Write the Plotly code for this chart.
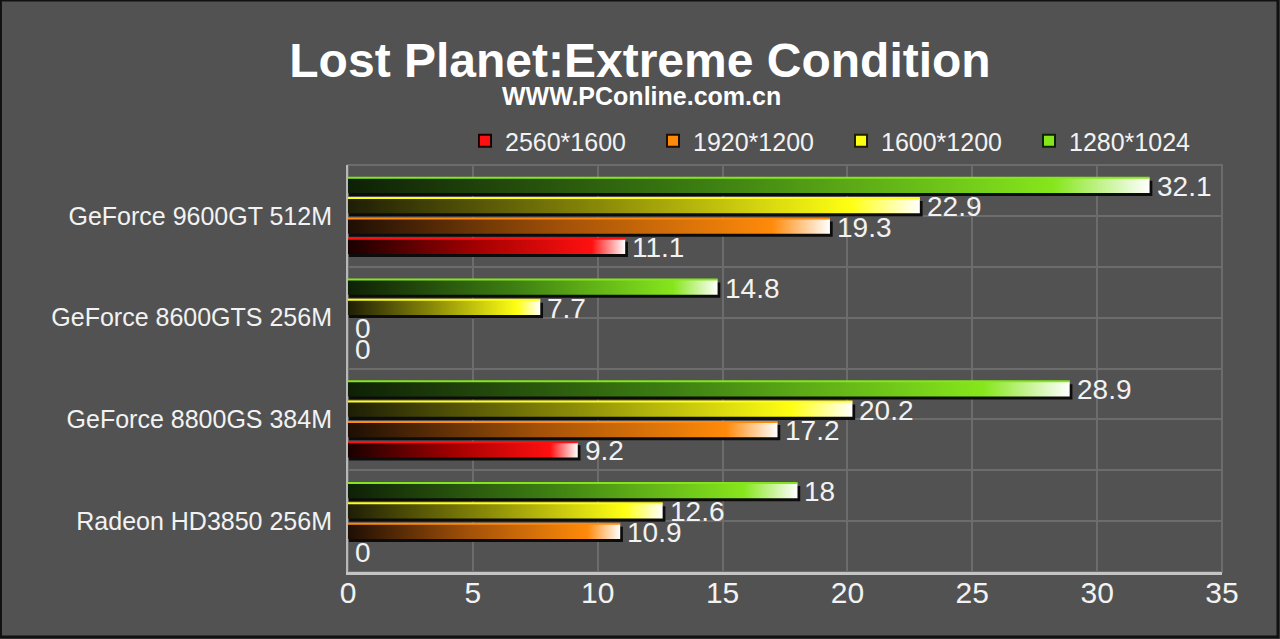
import plotly.graph_objects as go

# ---------------- data ----------------
categories = ["GeForce 9600GT 512M", "GeForce 8600GTS 256M",
              "GeForce 8800GS 384M", "Radeon HD3850 256M"]
series_names = ["2560*1600", "1920*1200", "1600*1200", "1280*1024"]
res_2560 = [11.1, 0, 9.2, 0]
res_1920 = [19.3, 0, 17.2, 10.9]
res_1600 = [22.9, 7.7, 20.2, 12.6]
res_1280 = [32.1, 14.8, 28.9, 18]
x_tickvals = [0, 5, 10, 15, 20, 25, 30, 35]

# ---------------- styles ----------------
BG = "#525252"
GRID = "#6c6c6c"
TXT = "#f2f2f2"
FONT = "Liberation Sans, Arial, sans-serif"
NARROW = "Liberation Sans Narrow, Arial Narrow, Liberation Sans, sans-serif"

styles = {
    "1280*1024": dict(vals=res_1280, dark="#0e2006", mid="#3d7f12", bright="#86e61c", slot=0),
    "1600*1200": dict(vals=res_1600, dark="#1e1e06", mid="#8c8c08", bright="#ffff14", slot=1),
    "1920*1200": dict(vals=res_1920, dark="#1e0e04", mid="#a45208", bright="#ff8a0a", slot=2),
    "2560*1600": dict(vals=res_2560, dark="#1a0000", mid="#a00000", bright="#ff1010", slot=3),
}
slot_offsets = [-0.3, -0.1, 0.1, 0.3]
half_h = 0.075
shadow_dx = 0.11
shadow_dy = 0.03

fig = go.Figure()

draw_order = ["1280*1024", "1600*1200", "1920*1200", "2560*1600"]

# shadows
for name in draw_order:
    st = styles[name]
    xs, ys = [], []
    for i, v in enumerate(st["vals"]):
        if v <= 0:
            continue
        yc = i + slot_offsets[st["slot"]]
        y0, y1 = yc - half_h + shadow_dy, yc + half_h + shadow_dy
        xs += [shadow_dx * 0.3, v + shadow_dx, v + shadow_dx, shadow_dx * 0.3, shadow_dx * 0.3, None]
        ys += [y0, y0, y1, y1, y0, None]
    fig.add_trace(go.Scatter(x=xs, y=ys, mode="lines", fill="toself",
                             fillcolor="#0c0c0c", line=dict(width=0),
                             hoverinfo="skip", showlegend=False))

# gradient bars
for name in draw_order:
    st = styles[name]
    cs = [[0, st["dark"]], [0.45, st["mid"]], [0.88, st["bright"]], [1.0, "#ffffff"]]
    for i, v in enumerate(st["vals"]):
        if v <= 0:
            continue
        yc = i + slot_offsets[st["slot"]]
        y0, y1 = yc - half_h, yc + half_h
        fig.add_trace(go.Scatter(
            x=[0, v, v, 0, 0], y=[y0, y0, y1, y1, y0],
            mode="lines", fill="toself",
            fillgradient=dict(type="horizontal", colorscale=cs),
            line=dict(width=0), hoverinfo="skip", showlegend=False))

# top highlight lines
for name in draw_order:
    st = styles[name]
    xs, ys = [], []
    for i, v in enumerate(st["vals"]):
        if v <= 0:
            continue
        yt = i + slot_offsets[st["slot"]] - half_h
        xs += [0, v, None]
        ys += [yt, yt, None]
    fig.add_trace(go.Scatter(x=xs, y=ys, mode="lines",
                             line=dict(color=st["bright"], width=2),
                             hoverinfo="skip", showlegend=False))

# value labels (annotations anchored at data values)
annotations = []
for name in draw_order:
    st = styles[name]
    for i, v in enumerate(st["vals"]):
        annotations.append(dict(
            x=v, y=i + slot_offsets[st["slot"]], xref="x", yref="y",
            text=f"{v:g}", showarrow=False, xanchor="left", yanchor="middle",
            xshift=5, yshift=-1,
            font=dict(family=FONT, size=28, color=TXT)))

# legend entries (order left -> right)
for name in series_names:
    st = styles[name]
    fig.add_trace(go.Bar(x=[None], y=[None], name=name, orientation="h",
                         marker=dict(color=st["bright"],
                                     line=dict(color=st["dark"], width=2))))

W, H = 1280, 639
ml, mr, mt, mb = 348, 58, 165, 67
pw, ph = W - ml - mr, H - mt - mb

annotations.append(dict(text="<b>WWW.PConline.com.cn</b>", showarrow=False,
                        xref="paper", yref="paper",
                        x=(641 - ml) / pw, y=1 + (mt - 96) / ph,
                        xanchor="center", yanchor="middle",
                        font=dict(family=FONT, size=25, color="#ffffff")))

fig.update_layout(
    width=W, height=H,
    paper_bgcolor=BG, plot_bgcolor=BG,
    margin=dict(l=ml, r=mr, t=mt, b=mb, pad=0),
    title=dict(text="<b>Lost Planet:Extreme Condition</b>",
               x=0.5, xref="container", xanchor="center",
               y=1 - 60 / H, yref="container", yanchor="middle",
               font=dict(family=FONT, size=48, color="#ffffff")),
    annotations=annotations,
    legend=dict(orientation="h", x=(465 - ml) / pw, xanchor="left",
                y=1 + (mt - 141) / ph, yanchor="middle",
                font=dict(family=FONT, size=25, color=TXT),
                bgcolor="rgba(0,0,0,0)", entrywidth=143,
                traceorder="normal"),
    xaxis=dict(range=[0, 35], tickvals=x_tickvals, showgrid=True,
               gridcolor=GRID, gridwidth=2, zeroline=False,
               showline=True, linecolor="#c4c4c4", linewidth=3,
               tickfont=dict(family=NARROW, size=30, color=TXT),
               ticks="", ticklabelstandoff=-8, fixedrange=True),
    yaxis=dict(range=[3.5, -0.5], tickvals=list(range(len(categories))),
               ticktext=categories, showgrid=True, gridcolor=GRID, gridwidth=2,
               zeroline=False, showline=True, linecolor="#b8b8b8", linewidth=2,
               minor=dict(tickvals=[-0.5, 0.5, 1.5, 2.5, 3.5], showgrid=True,
                          gridcolor=GRID, gridwidth=2),
               tickfont=dict(family=FONT, size=25, color=TXT),
               ticks="", ticklabelstandoff=9, fixedrange=True),
    shapes=[
        dict(type="rect", xref="paper", yref="paper", x0=0, x1=1, y0=0, y1=1,
             line=dict(color=GRID, width=2), layer="below"),
        dict(type="rect", xref="paper", yref="paper",
             x0=-ml / pw + 0.0005, x1=1 + (mr - 2) / pw,
             y0=-(mb - 2) / ph, y1=1 + mt / ph,
             line=dict(color="#111111", width=3), layer="above"),
    ],
    showlegend=True,
)

fig.write_html("out.html")
